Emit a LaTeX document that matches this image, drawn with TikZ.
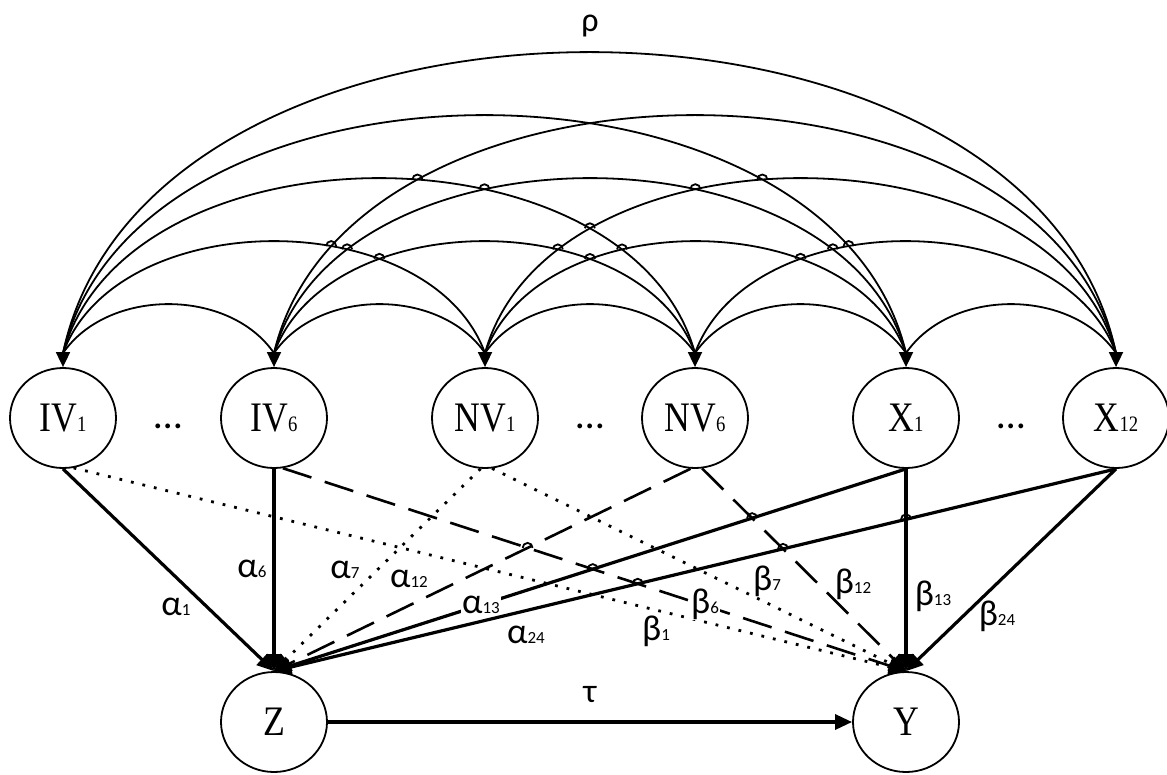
\documentclass[tikz,border=0pt]{standalone}
\usepackage{fontspec}
\setmainfont{Liberation Serif}
\newfontfamily\nodefont[FakeStretch=0.85]{Liberation Serif}
\newfontfamily\grk{Carlito}
\usetikzlibrary{arrows.meta,shapes.geometric,intersections,calc}
\newcommand{\nlab}[2]{{\fontsize{42}{42}\selectfont #1}{\fontsize{22}{22}\selectfont #2}}
\newcommand{\glab}[2]{{\fontsize{36}{36}\selectfont #1}{\fontsize{17}{17}\selectfont #2}}
\newcommand{\hopat}[2]{\path[name intersections={of=#1 and #2, by=hp}];
  \draw[hop] ($(hp)+(-5,0)$) arc[start angle=180,end angle=360,radius=5];}
\begin{document}
\begin{tikzpicture}[x=1pt,y=-1pt,
  var/.style={ellipse,draw,line width=1.8pt,minimum width=106pt,minimum height=100pt,inner sep=0pt,font=\nodefont},
  arcline/.style={line width=1.8pt},
  tipline/.style={line width=1.8pt,arrows={-Triangle[length=15pt,width=14pt]}},
  solidl/.style={line width=3.2pt,arrows={-Triangle[length=17pt,width=15pt]}},
  dashl/.style={line width=2.6pt,dash pattern=on 30pt off 14pt,arrows={-Triangle[length=17pt,width=15pt]}},
  dotl/.style={line width=2.8pt,dash pattern=on 2.8pt off 9pt,arrows={-Triangle[length=17pt,width=15pt]}},
  hop/.style={line width=1.8pt},
  glabel/.style={font=\grk,inner sep=1pt,anchor=base},
  dotsnode/.style={font={\grk\fontsize{40}{40}\selectfont},inner sep=0pt,anchor=base}]
\path[use as bounding box] (0,0) rectangle (1167,774);

\node[var] (n1) at (63,418) {\nlab{IV}{1}};
\node[var] (n2) at (274,418) {\nlab{IV}{6}};
\node[var] (n3) at (485,418) {\nlab{NV}{1}};
\node[var] (n4) at (695,418) {\nlab{NV}{6}};
\node[var] (n5) at (906,418) {\nlab{X}{1}};
\node[var] (n6) at (1116,418) {\nlab{X}{12}};
\node[var] (Z) at (274,722) {\nlab{Z}{}};
\node[var] (Y) at (906,722) {\nlab{Y}{}};

\node[dotsnode] (d1) at (168,428) {…};
\node[dotsnode] (d2) at (590,428) {…};
\node[dotsnode] (d3) at (1011,428) {…};

\foreach \i in {1,...,6}{
  \coordinate (b\i) at ($(n\i.north)+(0,-14)$);
  \draw[tipline] (b\i) -- (n\i.north);
}
\foreach \i/\j in {1/2,2/3,3/4,4/5,5/6,1/3,2/4,3/5,4/6,1/4,2/5,3/6,1/5,2/6,1/6}{
  \pgfmathsetmacro{\hh}{(63*(\j-\i)-14)/0.75}
  \pgfmathsetmacro{\aa}{35+10*(\j-\i)}
  \draw[arcline,name path global=c\i\j] (b\i) .. controls ($(b\i)+(\aa,-\hh)$) and ($(b\j)+(-\aa,-\hh)$) .. (b\j);
}
\hopat{c13}{c24}
\hopat{c13}{c25}
\hopat{c13}{c26}
\hopat{c14}{c25}
\hopat{c14}{c26}
\hopat{c14}{c35}
\hopat{c14}{c36}
\hopat{c15}{c36}
\hopat{c15}{c46}
\hopat{c24}{c35}
\hopat{c24}{c36}
\hopat{c25}{c36}
\hopat{c25}{c46}
\hopat{c35}{c46}

\node[font={\grk\fontsize{34}{34}\selectfont},anchor=base] (rho) at (590,31) {ρ};

\draw[solidl] (n1.south) -- (Z.north);
\draw[dotl] (n1.-78) -- (Y.north);
\draw[solidl] (n2.south) -- (Z.north);
\draw[dashl,name path=l2y] (n2.-80) -- (Y.north);
\draw[dotl] (n3.-95) -- (Z.north);
\draw[dotl] (n3.-82) -- (Y.north);
\draw[dashl,name path=l4z] (n4.-95) -- (Z.north);
\draw[dashl,name path=l4y] (n4.-82) -- (Y.north);
\draw[solidl,name path=l5z] (n5.south) -- (Z.north);
\draw[solidl,name path=l5y] (n5.south) -- (Y.north);
\draw[solidl,name path=l6z] (n6.south) -- (Z.north);
\draw[solidl] (n6.south) -- (Y.north);
\draw[solidl] (Z.east) -- (Y.west);

\hopat{l4z}{l2y}
\hopat{l5z}{l2y}
\hopat{l5z}{l4y}
\hopat{l6z}{l5y}
\hopat{l6z}{l4y}
\hopat{l6z}{l2y}

\node[glabel] (a1) at (176,615) {\glab{α}{1}};
\node[glabel] (a6) at (252,577) {\glab{α}{6}};
\node[glabel] (a7) at (345,578) {\glab{α}{7}};
\node[glabel] (a12) at (409,587) {\glab{α}{12}};
\node[glabel,fill=white] (a13) at (481,613) {\glab{α}{13}};
\node[glabel] (a24) at (526,643) {\glab{α}{24}};
\node[glabel] (b1) at (656,640) {\glab{β}{1}};
\node[glabel,fill=white] (b6) at (705,613) {\glab{β}{6}};
\node[glabel] (b7) at (767,590) {\glab{β}{7}};
\node[glabel] (b12) at (853,593) {\glab{β}{12}};
\node[glabel] (b13) at (933,605) {\glab{β}{13}};
\node[glabel] (b24) at (997,625) {\glab{β}{24}};
\node[font={\grk\fontsize{34}{34}\selectfont},anchor=base] (tau) at (590,702) {τ};
\end{tikzpicture}
\end{document}
